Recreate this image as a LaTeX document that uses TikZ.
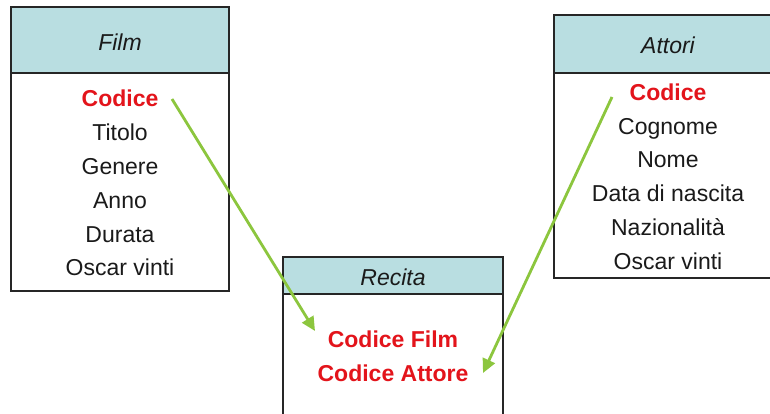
\documentclass[tikz,border=0pt]{standalone}
\usepackage{fontspec}
\setmainfont{Liberation Sans}
\usetikzlibrary{arrows.meta}
\definecolor{hdr}{HTML}{B9DEE1}
\definecolor{keyred}{HTML}{E3141B}
\definecolor{lnk}{HTML}{8CC63E}
\definecolor{txt}{HTML}{1A1A1A}
\begin{document}
\begin{tikzpicture}[x=1pt,y=-1pt,
  tbl/.style={draw=black!85,line width=2pt},
  head/.style={fill=hdr,draw=black!85,line width=2pt},
  title/.style={inner sep=0pt,anchor=base,font=\fontsize{23}{25}\selectfont\itshape,text=txt},
  field/.style={inner sep=0pt,anchor=base,font=\fontsize{23}{25}\selectfont,text=txt},
  keyf/.style={inner sep=0pt,anchor=base,font=\fontsize{23}{25}\selectfont\bfseries,text=keyred},
  link/.style={draw=lnk,line width=2.8pt,-{Triangle[length=14pt,width=13pt]}}]
\useasboundingbox (0,0) rectangle (770,413);
\fill[white] (0,0) rectangle (770,413);
% Film
\filldraw[white,tbl] (11,7) rectangle (229,291);
\filldraw[head] (11,7) rectangle (229,73);
\node[title] (tfilm) at (120,50) {Film};
\node[keyf] (fcod) at (120,106) {Codice};
\node[field] (f2) at (120,140) {Titolo};
\node[field] (f3) at (120,174) {Genere};
\node[field] (f4) at (120,208) {Anno};
\node[field] (f5) at (120,242) {Durata};
\node[field] (f6) at (120,275) {Oscar vinti};
% Attori
\filldraw[white,tbl] (554,15) rectangle (782,278);
\filldraw[head] (554,15) rectangle (782,73);
\node[title] (tatt) at (668,53) {Attori};
\node[keyf] (acod) at (668,100) {Codice};
\node[field] (a2) at (668,134) {Cognome};
\node[field] (a3) at (668,167) {Nome};
\node[field] (a4) at (668,201) {Data di nascita};
\node[field] (a5) at (668,235) {Nazionalità};
\node[field] (a6) at (668,269) {Oscar vinti};
% Recita
\filldraw[white,tbl] (283,257) rectangle (503,425);
\filldraw[head] (283,257) rectangle (503,294);
\node[title] (trec) at (393,285) {Recita};
\node[keyf] (rfilm) at (393,347) {Codice Film};
\node[keyf] (ratt) at (393,381) {Codice Attore};
% links
\coordinate (s1) at (172,99);
\coordinate (e1) at (315,331);
\coordinate (s2) at (612,97);
\coordinate (e2) at (483,373);
\draw[link] (s1) -- (e1);
\draw[link] (s2) -- (e2);
\end{tikzpicture}
\end{document}
